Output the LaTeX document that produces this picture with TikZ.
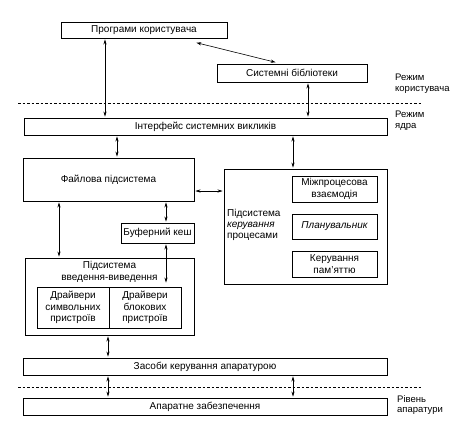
\documentclass[tikz,border=0pt]{standalone}
\usepackage{fontspec}
\setmainfont{Liberation Sans}
\usetikzlibrary{arrows.meta,calc}
\begin{document}
\begin{tikzpicture}[x=1pt,y=-1pt,
 box/.style={draw,line width=0.9pt,inner sep=0pt,align=center,font=\fontsize{10}{11.3}\selectfont},
 txt/.style={inner sep=0pt,align=center,font=\fontsize{10}{11.3}\selectfont},
 arr/.style={{Stealth[length=5pt,width=3.2pt]}-{Stealth[length=5pt,width=3.2pt]},line width=0.6pt,shorten <=1pt,shorten >=1pt},
 sepline/.style={dash pattern=on 2.5pt off 2pt, line width=0.6pt},
 lab/.style={align=left,anchor=west,inner sep=0pt,font=\fontsize{9.5}{10.8}\selectfont}]
\useasboundingbox (0,0) rectangle (475,421);

% boxes
\node[box,minimum width=166pt,minimum height=16pt] (prog) at (144,30) {Програми користувача};
\node[box,minimum width=150pt,minimum height=18pt] (lib) at (292,73) {Системні бібліотеки};
\node[box,minimum width=363pt,minimum height=17pt] (iface) at (205.5,126.5) {Інтерфейс системних викликів};
\node[box,minimum width=171pt,minimum height=43pt] (fs) at (108.5,179.5) {Файлова підсистема};
\node[box,minimum width=163pt,minimum height=115pt] (proc) at (305.5,226.5) {};
\node[box,minimum width=85pt,minimum height=26pt] (ipc) at (334.5,189) {Міжпроцесова\\взаємодія};
\node[box,minimum width=85pt,minimum height=25pt] (sched) at (334.5,226.5) {\itshape Планувальник};
\node[box,minimum width=85pt,minimum height=26pt] (mem) at (334.5,264) {Керування\\пам'яттю};
\node[lab,font=\fontsize{10}{11.3}\selectfont] (proclab) at (227,225) {Підсистема\\\textit{керування}\\процесами};
\node[box,minimum width=73pt,minimum height=20pt] (buf) at (157.5,233) {Буферний кеш};
\node[box,minimum width=169pt,minimum height=77pt] (io) at (109.5,296.5) {};
\node[txt] (iolab) at (109.5,272) {Підсистема\\введення-виведення};
\node[box,minimum width=72pt,minimum height=41pt] (chr) at (73,307.5) {Драйвери\\символьних\\пристроїв};
\node[box,minimum width=72pt,minimum height=41pt] (blk) at (145,307.5) {Драйвери\\блокових\\пристроїв};
\node[box,minimum width=364pt,minimum height=17pt] (hwctl) at (205,366.5) {Засоби керування апаратурою};
\node[box,minimum width=364pt,minimum height=17pt] (hw) at (205,406.5) {Апаратне забезпечення};

% separators
\coordinate (s1l) at (18,103);
\coordinate (s1r) at (421,103);
\coordinate (s2l) at (18,387);
\coordinate (s2r) at (421,387);
\draw[sepline] (s1l) -- (s1r);
\draw[sepline] (s2l) -- (s2r);

% right labels
\node[lab] (lu) at (395,84) {Режим\\користувача};
\node[lab] (lk) at (395,121) {Режим\\ядра};
\node[lab] (lh) at (397,405) {Рівень\\апаратури};

% x positions
\coordinate (x59) at (59,0);
\coordinate (x105) at (105,0);
\coordinate (x108) at (108,0);
\coordinate (x117) at (117,0);
\coordinate (x166) at (166,0);
\coordinate (x293) at (293,0);
\coordinate (x308) at (308,0);
\coordinate (y191) at (0,191);

% connectors
\draw[arr] (prog.south -| x105) -- (iface.north -| x105);
\draw[arr] ($(prog.south east)+(-32,4)$) -- ($(lib.north west)+(60,-1)$);
\draw[arr] (lib.south -| x308) -- (iface.north -| x308);
\draw[arr] (iface.south -| x117) -- (fs.north -| x117);
\draw[arr] (iface.south -| x293) -- (proc.north -| x293);
\draw[arr] (fs.east |- y191) -- (proc.west |- y191);
\draw[arr] (fs.south -| x59) -- (io.north -| x59);
\draw[arr] (fs.south -| x166) -- (buf.north -| x166);
\draw[arr] (buf.south -| x166) -- ($(blk.north -| x166)+(0,-3)$);
\draw[arr] (io.south -| x108) -- (hwctl.north -| x108);
\draw[arr] (hwctl.south -| x108) -- (hw.north -| x108);
\draw[arr] (hwctl.south -| x293) -- (hw.north -| x293);
\end{tikzpicture}
\end{document}
